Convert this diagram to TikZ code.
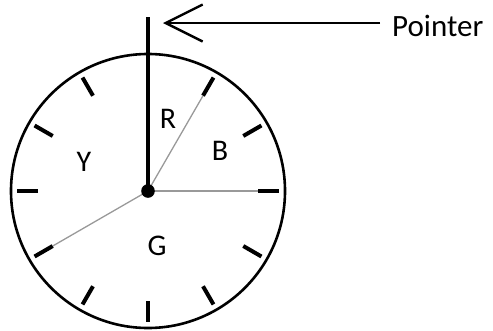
\documentclass[tikz,border=0pt]{standalone}
\usepackage{fontspec}
\setmainfont{Carlito}
\usetikzlibrary{arrows.meta,calc}
\begin{document}
\begin{tikzpicture}[x=1pt,y=-1pt,
  rim/.style={line width=2.6pt},
  tick/.style={line width=4pt},
  sector/.style={line width=1.3pt, gray!80},
  hand/.style={line width=3.5pt},
  lbl/.style={font=\fontsize{30}{30}\selectfont, inner sep=0pt},
  callout/.style={line width=2.4pt, -{Straight Barb[length=37pt,width=37pt,line width=2.4pt]}}]
\useasboundingbox (0,0) rectangle (493,330);
\coordinate (c) at (148,191);
% dial rim
\draw[rim] (c) circle[radius=137];
% hour marks
\foreach \a in {0,30,...,330}
  \draw[tick] ($(c)+(\a:110)$) -- ($(c)+(\a:131)$);
% sector boundaries
\draw[sector] (c) -- ($(c)+(-60:110)$);
\draw[sector] (c) -- ($(c)+(0:110)$);
\draw[sector] (c) -- ($(c)+(150:110)$);
% pointer hand
\coordinate (top) at (148,17);
\draw[hand] (c) -- (top);
\fill (c) circle[radius=6.8];
% sector letters
\node[lbl] (r) at (168,119) {R};
\node[lbl] (b) at (220,151) {B};
\node[lbl] (y) at (84,162) {Y};
\node[lbl] (g) at (157,246) {G};
% callout
\node[lbl, anchor=west, font=\fontsize{31}{31}\selectfont] (plabel) at (392,26) {Pointer};
\coordinate (tip) at (163,23);
\draw[callout] (plabel.west |- tip) ++(-12,0) -- (tip);
\end{tikzpicture}
\end{document}
